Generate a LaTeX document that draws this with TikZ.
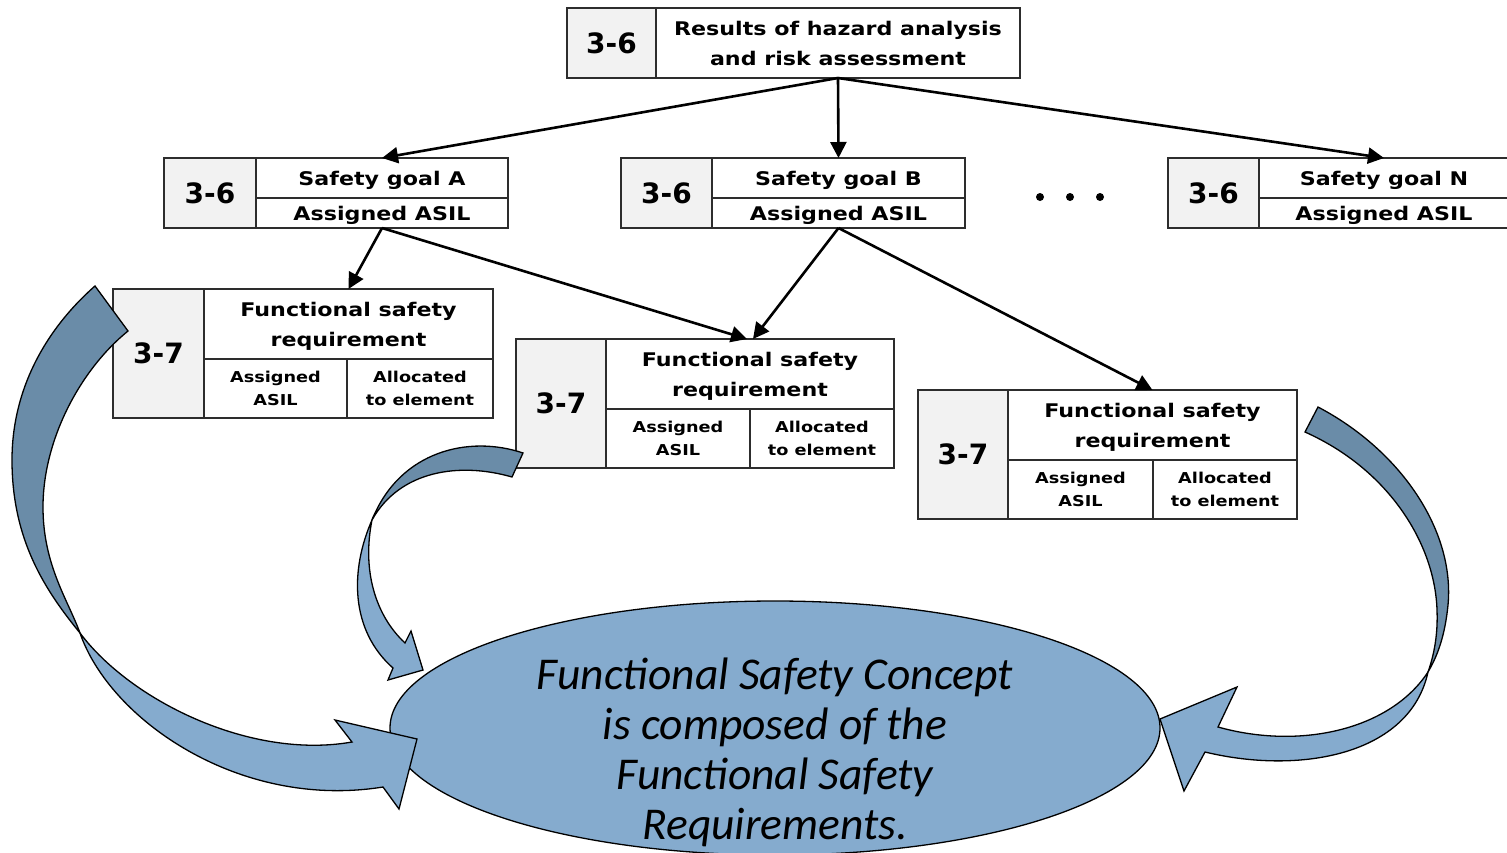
\documentclass[tikz,border=0pt]{standalone}
\usepackage{fontspec}
\usetikzlibrary{arrows.meta,shapes.geometric}
\newfontfamily\cellfont[FakeStretch=1.18]{DejaVu Sans}
\newfontfamily\numfont{DejaVu Sans}
\newfontfamily\conceptfont{Carlito}
\definecolor{cellgrey}{RGB}{242,242,242}
\definecolor{edgegrey}{RGB}{45,45,45}
\definecolor{bandfrontc}{RGB}{133,171,206}
\definecolor{bandbackc}{RGB}{106,140,168}
\tikzset{
  cellbase/.style={draw=edgegrey, line width=1.4pt, inner sep=0pt, outer sep=0pt, align=center, text=black},
  numcell/.style={cellbase, fill=cellgrey, anchor=north west, font=\numfont\bfseries\fontsize{28}{30}\selectfont},
  titlecell/.style={cellbase, fill=white, anchor=north west, font=\cellfont\bfseries\fontsize{18.8}{30}\selectfont},
  smallcell/.style={cellbase, fill=white, anchor=north west, font=\cellfont\bfseries\fontsize{15}{23}\selectfont},
  flatdepth/.style={text depth=0pt},
  conn/.style={line width=2.6pt, -{Triangle[length=16pt,width=16pt]}},
  bandfront/.style={fill=bandfrontc, draw=black, line width=1.3pt, line join=miter},
  bandback/.style={fill=bandbackc, draw=black, line width=1.3pt, line join=miter},
  dotmark/.style={circle, fill=black, inner sep=0pt, minimum size=8pt}
}
\begin{document}
\begin{tikzpicture}[x=1pt, y=-1pt]
\useasboundingbox (0,0) rectangle (1507,852);

% concept ellipse and its text
\node[ellipse, draw=black, line width=1.3pt, fill=bandfrontc, minimum width=770pt, minimum height=254pt, inner sep=0pt] (fsc) at (775,728) {};
\node[anchor=north, align=center, inner sep=0pt, font=\conceptfont\itshape\fontsize{45.5}{50}\selectfont] (fsctext) at (775,658)
  {Functional Safety Concept\\is composed of the\\Functional Safety\\Requirements.};

% hazard analysis results
\node[numcell, minimum width=89pt, minimum height=70pt] (hraNum) at (567,8) {3-6};
\node[titlecell, minimum width=364pt, minimum height=70pt] (hra) at (656,8) {Results of hazard analysis\\and risk assessment};

% safety goals
\node[numcell, minimum width=92pt, minimum height=70pt] (sgANum) at (164,158) {3-6};
\node[titlecell, flatdepth, minimum width=252pt, minimum height=40pt] (sgA) at (256,158) {Safety goal A};
\node[titlecell, flatdepth, minimum width=252pt, minimum height=30pt] (sgAasil) at (256,198) {Assigned ASIL};

\node[numcell, minimum width=91pt, minimum height=70pt] (sgBNum) at (621,158) {3-6};
\node[titlecell, flatdepth, minimum width=253pt, minimum height=40pt] (sgB) at (712,158) {Safety goal B};
\node[titlecell, flatdepth, minimum width=253pt, minimum height=30pt] (sgBasil) at (712,198) {Assigned ASIL};

\node[numcell, minimum width=91pt, minimum height=70pt] (sgNNum) at (1168,158) {3-6};
\node[titlecell, flatdepth, minimum width=250pt, minimum height=40pt] (sgN) at (1259,158) {Safety goal N};
\node[titlecell, flatdepth, minimum width=250pt, minimum height=30pt] (sgNasil) at (1259,198) {Assigned ASIL};

\node[dotmark] (dot1) at (1040,197) {};
\node[dotmark] (dot2) at (1070,197) {};
\node[dotmark] (dot3) at (1100,197) {};

% functional safety requirements
\node[numcell, minimum width=91pt, minimum height=129pt] (fsrANum) at (113,289) {3-7};
\node[titlecell, flatdepth, minimum width=289pt, minimum height=70pt] (fsrA) at (204,289) {Functional safety\\requirement};
\node[smallcell, minimum width=143pt, minimum height=59pt] (fsrAasil) at (204,359) {Assigned\\ASIL};
\node[smallcell, minimum width=146pt, minimum height=59pt] (fsrAelem) at (347,359) {Allocated\\to element};

\node[numcell, minimum width=90pt, minimum height=129pt] (fsrBNum) at (516,339) {3-7};
\node[titlecell, flatdepth, minimum width=288pt, minimum height=70pt] (fsrB) at (606,339) {Functional safety\\requirement};
\node[smallcell, minimum width=144pt, minimum height=59pt] (fsrBasil) at (606,409) {Assigned\\ASIL};
\node[smallcell, minimum width=144pt, minimum height=59pt] (fsrBelem) at (750,409) {Allocated\\to element};

\node[numcell, minimum width=90pt, minimum height=129pt] (fsrCNum) at (918,390) {3-7};
\node[titlecell, flatdepth, minimum width=289pt, minimum height=70pt] (fsrC) at (1008,390) {Functional safety\\requirement};
\node[smallcell, minimum width=145pt, minimum height=59pt] (fsrCasil) at (1008,460) {Assigned\\ASIL};
\node[smallcell, minimum width=144pt, minimum height=59pt] (fsrCelem) at (1153,460) {Allocated\\to element};

% derivation arrows
\draw[conn] (hra.south) -- (sgA.north);
\draw[conn] (hra.south) -- (sgB.north);
\draw[conn] (hra.south) -- (sgN.north);
\draw[conn] (sgAasil.south) -- (fsrA.north);
\draw[conn] (sgAasil.south) -- ([xshift=-3pt]fsrB.north);
\draw[conn] (sgBasil.south) -- ([xshift=3pt]fsrB.north);
\draw[conn] (sgBasil.south) -- (fsrC.north);

% curved block arrows into the concept (back face, then front face)
\filldraw[bandback] (95,286) .. controls (45,330) and (12,390) .. (12,460)
  .. controls (12,540) and (45,590) .. (80,633)
  .. controls (68,600) and (43,565) .. (43,507)
  .. controls (43,440) and (80,370) .. (128,331) -- cycle;
\filldraw[bandfront] (80,633) .. controls (110,720) and (240,810) .. (383,787)
  -- (399,809) -- (417,739) -- (335,720) -- (352,742)
  .. controls (250,760) and (130,700) .. (80,633) -- cycle;

\filldraw[bandback] (523,453) .. controls (470,435) and (400,450) .. (372,520)
  .. controls (400,470) and (460,462) .. (512,477) -- cycle;
\filldraw[bandfront] (372,520) .. controls (350,570) and (350,630) .. (393,668)
  -- (388,680) -- (423,670) -- (411,631) -- (405,643)
  .. controls (375,615) and (362,570) .. (372,520) -- cycle;

\filldraw[bandback] (1318,407) .. controls (1400,450) and (1455,530) .. (1448,605)
  .. controls (1445,635) and (1438,655) .. (1428,672)
  .. controls (1434,655) and (1438,635) .. (1437,610)
  .. controls (1435,545) and (1390,470) .. (1305,432) -- cycle;
\filldraw[bandfront] (1428,672) .. controls (1410,755) and (1300,775) .. (1205,752)
  -- (1184,791) -- (1160,719) -- (1237,687) -- (1218,727)
  .. controls (1300,750) and (1390,730) .. (1428,672) -- cycle;
\end{tikzpicture}
\end{document}
